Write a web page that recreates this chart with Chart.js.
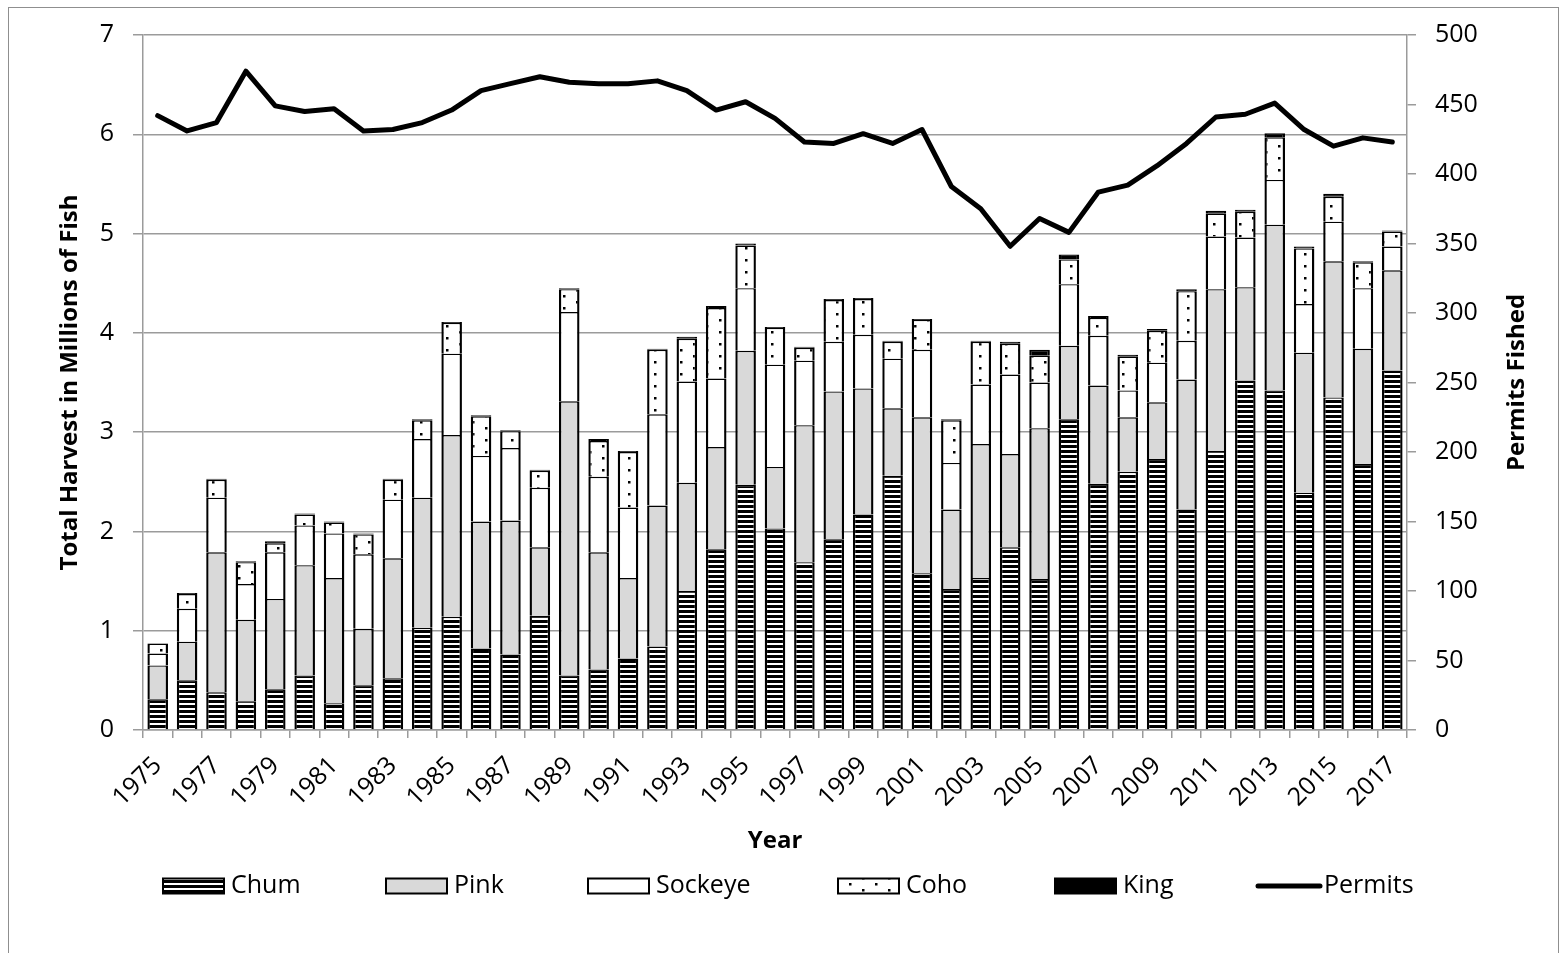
<!DOCTYPE html>
<html>
<head>
<meta charset="utf-8">
<script src="https://cdn.jsdelivr.net/npm/chart.js@4.4.1/dist/chart.umd.min.js"></script>
<style>
html,body{margin:0;padding:0;background:#fff;}
#wrap{position:relative;width:1566px;height:953px;overflow:hidden;background:#fff;}
#frame{position:absolute;left:8px;top:7px;width:1551px;height:1000px;border:1.5px solid #8f8f8f;box-sizing:border-box;pointer-events:none;}
canvas{position:absolute;left:0;top:0;}
</style>
</head>
<body>
<div id="wrap"><canvas id="c" width="1566" height="953"></canvas><div id="frame"></div></div>
<script>
// ---- data (millions of fish per species, permits fished) ----
const years = ['1975','1976','1977','1978','1979','1980','1981','1982','1983','1984','1985','1986','1987','1988','1989','1990','1991','1992','1993','1994','1995','1996','1997','1998','1999','2000','2001','2002','2003','2004','2005','2006','2007','2008','2009','2010','2011','2012','2013','2014','2015','2016','2017'];
const chum    = [0.31,0.50,0.38,0.29,0.41,0.55,0.27,0.45,0.52,1.03,1.14,0.82,0.76,1.15,0.55,0.61,0.72,0.84,1.40,1.82,2.47,2.03,1.69,1.92,2.17,2.56,1.58,1.42,1.53,1.84,1.52,3.13,2.48,2.60,2.73,2.22,2.81,3.52,3.42,2.39,3.35,2.68,3.62];
const pink    = [0.34,0.39,1.41,0.82,0.91,1.11,1.26,0.57,1.21,1.31,1.83,1.28,1.35,0.69,2.76,1.18,0.81,1.42,1.09,1.03,1.35,0.62,1.38,1.49,1.27,0.68,1.57,0.80,1.35,0.94,1.52,0.74,0.99,0.55,0.57,1.31,1.63,0.94,1.67,1.41,1.37,1.16,1.01];
const sockeye = [0.12,0.33,0.55,0.36,0.47,0.40,0.45,0.75,0.59,0.59,0.82,0.66,0.73,0.60,0.90,0.76,0.71,0.92,1.02,0.69,0.63,1.03,0.65,0.50,0.54,0.50,0.68,0.47,0.60,0.80,0.46,0.62,0.50,0.27,0.40,0.39,0.53,0.50,0.45,0.49,0.40,0.61,0.24];
const coho    = [0.10,0.15,0.18,0.22,0.09,0.11,0.11,0.20,0.20,0.19,0.31,0.40,0.17,0.17,0.23,0.36,0.56,0.65,0.43,0.71,0.43,0.37,0.13,0.42,0.36,0.17,0.30,0.43,0.43,0.31,0.27,0.25,0.18,0.34,0.32,0.50,0.23,0.26,0.43,0.56,0.25,0.26,0.15];
const king    = [0.005,0.01,0.01,0.01,0.02,0.01,0.01,0.01,0.01,0.01,0.01,0.01,0.01,0.01,0.01,0.02,0.01,0.01,0.02,0.02,0.02,0.01,0.01,0.01,0.01,0.01,0.01,0.01,0.01,0.02,0.06,0.05,0.02,0.02,0.02,0.02,0.03,0.02,0.04,0.02,0.03,0.01,0.01];
const permits = [442,431,437,474,449,445,447,431,432,437,446,460,465,470,466,465,465,467,460,446,452,440,423,422,429,422,432,391,375,348,368,358,387,392,406,422,441,443,451,432,420,426,423];
const leftTicks  = {min:0, max:7, step:1};
const rightTicks = {min:0, max:500, step:50};

// ---- styling ----
const FONT = '"Open Sans", "Noto Sans", sans-serif';
const GRID = '#9b9b9b';

function stripePattern(){
  const c=document.createElement('canvas'); c.width=8; c.height=5;
  const g=c.getContext('2d');
  g.fillStyle='#fff'; g.fillRect(0,0,8,5);
  g.fillStyle='#000'; g.fillRect(0,0,8,3);
  return g.createPattern(c,'repeat');
}
function dotPattern(){
  const c=document.createElement('canvas'); c.width=26; c.height=12;
  const g=c.getContext('2d');
  g.fillStyle='#fff'; g.fillRect(0,0,26,12);
  g.fillStyle='#000'; g.fillRect(4,1,2.5,2.5); g.fillRect(17,7,2.5,2.5);
  return g.createPattern(c,'repeat');
}

const barCommon = {
  type:'bar', order:1, borderColor:'#000',
  borderWidth:{top:1.4,left:2.4,right:2.4,bottom:0},
  categoryPercentage:1.0, barPercentage:0.7, yAxisID:'y'
};

const legendX = [163, 386, 588, 838, 1055, 1255];

const extras = {
  id:'extras',
  afterDraw(chart){
    const ctx = chart.ctx;
    ctx.save();
    // right axis title (rotated like the left one)
    ctx.font = 'bold 24px ' + FONT;
    ctx.fillStyle = '#000';
    ctx.textAlign = 'center';
    ctx.textBaseline = 'middle';
    const ca = chart.chartArea;
    ctx.translate(1517, (ca.top + ca.bottom)/2);
    ctx.rotate(-Math.PI/2);
    ctx.fillText('Permits Fished', 0, 0);
    ctx.restore();

    // legend
    ctx.save();
    ctx.font = '25px ' + FONT;
    ctx.textBaseline = 'middle';
    ctx.textAlign = 'left';
    const y = 886;
    chart.data.datasets.forEach((ds, i) => {
      const x = legendX[i];
      let tx;
      if (ds.type === 'line') {
        ctx.strokeStyle = '#000'; ctx.lineWidth = 5; ctx.lineCap = 'round';
        ctx.beginPath(); ctx.moveTo(x+3, y); ctx.lineTo(x+65, y); ctx.stroke();
        tx = x + 69;
      } else {
        ctx.fillStyle = ds.backgroundColor;
        ctx.fillRect(x, y-7.5, 61, 15);
        ctx.strokeStyle = '#000'; ctx.lineWidth = 2;
        ctx.strokeRect(x, y-7.5, 61, 15);
        tx = x + 68;
      }
      ctx.fillStyle = '#000';
      ctx.fillText(ds.label, tx, y);
    });
    ctx.restore();
  }
};

function draw(){
  const ctx = document.getElementById('c').getContext('2d');
  new Chart(ctx, {
    data:{
      labels: years,
      datasets:[
        Object.assign({label:'Chum', data:chum, backgroundColor:stripePattern()}, barCommon),
        Object.assign({label:'Pink', data:pink, backgroundColor:'#d9d9d9'}, barCommon),
        Object.assign({label:'Sockeye', data:sockeye, backgroundColor:'#ffffff'}, barCommon),
        Object.assign({label:'Coho', data:coho, backgroundColor:dotPattern()}, barCommon),
        Object.assign({label:'King', data:king, backgroundColor:'#000000'}, barCommon),
        {type:'line', label:'Permits', data:permits, yAxisID:'y2', order:0,
         borderColor:'#000', backgroundColor:'#000', borderWidth:5, pointRadius:0,
         tension:0, borderJoinStyle:'round', borderCapStyle:'round', fill:false}
      ]
    },
    options:{
      responsive:false, animation:false, devicePixelRatio:1,
      layout:{padding:{left:8, right:8, top:35, bottom:93}},
      plugins:{legend:{display:false}, tooltip:{enabled:false}},
      scales:{
        x:{
          stacked:true, offset:true,
          grid:{offset:true, drawOnChartArea:false, color:GRID, lineWidth:1.5, tickLength:8},
          border:{color:GRID, width:1.5},
          ticks:{autoSkip:false, maxRotation:45, minRotation:45, padding:13, color:'#000',
                 font:{family:FONT, size:25},
                 callback:(v,i)=> (i%2===0 ? years[i] : '')},
          title:{display:true, text:'Year', color:'#000',
                 font:{family:FONT, size:24, weight:'bold'}, padding:{top:0, bottom:4.6}},
          afterFit:(s)=>{ s.height = 130; }
        },
        y:{
          stacked:true, position:'left', min:leftTicks.min, max:leftTicks.max,
          ticks:{stepSize:leftTicks.step, padding:19, color:'#000', font:{family:FONT, size:25}},
          grid:{color:GRID, lineWidth:1.5, tickLength:10},
          border:{color:GRID, width:1.5},
          title:{display:true, text:'Total Harvest in Millions of Fish', color:'#000',
                 font:{family:FONT, size:24, weight:'bold'}, padding:{top:47.6, bottom:0}},
          afterFit:(s)=>{ s.width = 135; }
        },
        y2:{
          position:'right', min:rightTicks.min, max:rightTicks.max,
          ticks:{stepSize:rightTicks.step, padding:19, color:'#000', font:{family:FONT, size:25}},
          grid:{drawOnChartArea:false, color:GRID, lineWidth:1.5, tickLength:9},
          border:{color:GRID, width:1.5},
          afterFit:(s)=>{ s.width = 151; }
        }
      }
    },
    plugins:[extras]
  });
}
if (document.fonts && document.fonts.load) {
  Promise.all([document.fonts.load('25px "Open Sans"'), document.fonts.load('bold 24px "Open Sans"')]).then(draw, draw);
} else { draw(); }
</script>
</body>
</html>
